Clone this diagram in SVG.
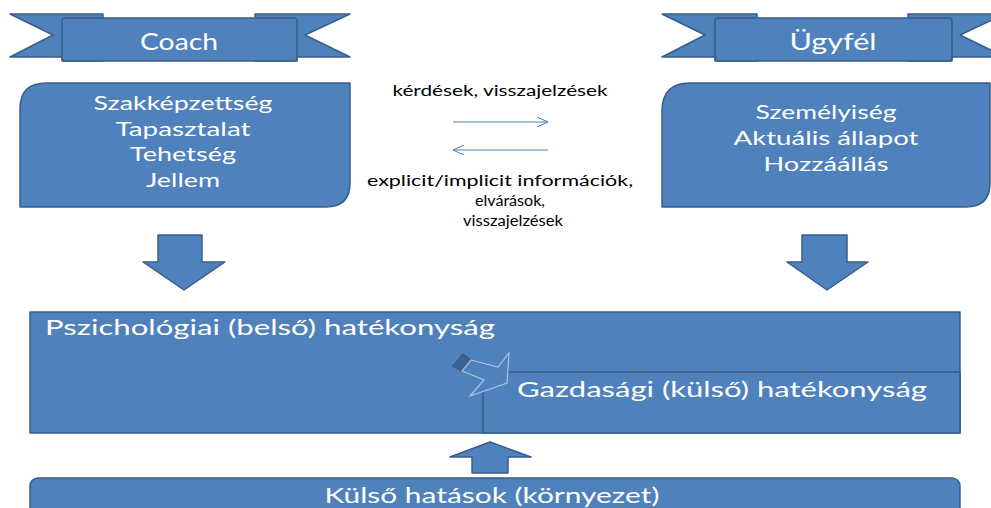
<svg xmlns="http://www.w3.org/2000/svg" width="991" height="508" viewBox="0 0 991 508">
<defs>
<style>
.shape{fill:#4f81bd;stroke:#385d8a;stroke-width:1.5;stroke-linejoin:round}
.fold{fill:#3a6294;stroke:#385d8a;stroke-width:1.5;stroke-linejoin:round}
.wt{fill:#ffffff;font-family:Lato,"Liberation Sans",sans-serif;text-anchor:middle}
.bt{fill:#000000;font-family:Lato,"Liberation Sans",sans-serif;text-anchor:middle;font-size:15.5px}
.conn{stroke:#4a7ebb;stroke-width:1;fill:none}
</style>
<marker id="open" viewBox="0 0 12 10" refX="11" refY="5" markerWidth="12" markerHeight="10" markerUnits="userSpaceOnUse" orient="auto">
<path d="M0,0 L11,5 L0,10" fill="none" stroke="#4a7ebb" stroke-width="1"/>
</marker>
</defs>
<rect width="991" height="508" fill="#ffffff"/>

<g id="coach-banner">
<path class="shape" d="M10,14 L103,14 L103,57 L10,57 L53,35 Z"/>
<path class="shape" d="M255,14 L350,14 L305,35 L350,57 L255,57 Z"/>
<path class="fold" d="M62,57 L103,57 L103,61 L62,61 Z"/>
<path class="fold" d="M255,57 L297,57 L297,61 L255,61 Z"/>
<rect class="shape" x="62" y="18" width="235" height="43" rx="3"/>
<text class="wt" x="179" y="50" font-size="24" textLength="78" lengthAdjust="spacingAndGlyphs">Coach</text>
</g>

<g id="ugyfel-banner">
<path class="shape" d="M662,14 L757,14 L757,57 L662,57 L705,35 Z"/>
<path class="shape" d="M908,14 L1005,14 L960,35 L1005,57 L908,57 Z"/>
<path class="fold" d="M715,57 L757,57 L757,61 L715,61 Z"/>
<path class="fold" d="M908,57 L952,57 L952,61 L908,61 Z"/>
<rect class="shape" x="715" y="18" width="237" height="43" rx="3"/>
<text class="wt" x="833" y="50" font-size="24" textLength="87" lengthAdjust="spacingAndGlyphs">Ügyfél</text>
</g>

<g id="coach-box">
<path class="shape" d="M46,83 L350,83 L350,183 Q350,207 326,207 L20,207 L20,109 Q20,83 46,83 Z"/>
<text class="wt" x="183" y="110" font-size="20" textLength="179" lengthAdjust="spacingAndGlyphs">Szakképzettség</text>
<text class="wt" x="183" y="136" font-size="20" textLength="135" lengthAdjust="spacingAndGlyphs">Tapasztalat</text>
<text class="wt" x="183" y="161" font-size="20" textLength="106" lengthAdjust="spacingAndGlyphs">Tehetség</text>
<text class="wt" x="183" y="187" font-size="20" textLength="74" lengthAdjust="spacingAndGlyphs">Jellem</text>
</g>

<g id="ugyfel-box">
<path class="shape" d="M690,83 L990,83 L990,183 Q990,207 966,207 L662,207 L662,111 Q662,83 690,83 Z"/>
<text class="wt" x="826" y="119" font-size="20" textLength="141" lengthAdjust="spacingAndGlyphs">Személyiség</text>
<text class="wt" x="826" y="145" font-size="20" textLength="185" lengthAdjust="spacingAndGlyphs">Aktuális állapot</text>
<text class="wt" x="826" y="171" font-size="20" textLength="125" lengthAdjust="spacingAndGlyphs">Hozzáállás</text>
</g>

<g id="communication-labels">
<text class="bt" x="500" y="96" textLength="215" lengthAdjust="spacingAndGlyphs">kérdések, visszajelzések</text>
<text class="bt" x="500" y="186" textLength="266" lengthAdjust="spacingAndGlyphs">explicit/implicit információk,</text>
<text class="bt" x="510" y="206" textLength="70" lengthAdjust="spacingAndGlyphs">elvárások,</text>
<text class="bt" x="513" y="226" textLength="100" lengthAdjust="spacingAndGlyphs">visszajelzések</text>
</g>

<g id="connectors">
<line class="conn" x1="453" y1="122" x2="548" y2="122" marker-end="url(#open)"/>
<line class="conn" x1="548" y1="150" x2="453" y2="150" marker-end="url(#open)"/>
<path class="shape" d="M158,235 L202,235 L202,262 L225,262 L184,290 L143,262 L158,262 Z"/>
<path class="shape" d="M802,235 L847,235 L847,262 L868,262 L827,290 L787,262 L802,262 Z"/>
<path class="shape" d="M472,473 L472,457 L450,457 L490,442 L531,457 L508,457 L508,473 Z"/>
</g>

<g id="hatekonysag-box">
<rect class="shape" x="30" y="312" width="930" height="121"/>
<text class="wt" x="45" y="335" font-size="21" style="text-anchor:start" textLength="450" lengthAdjust="spacingAndGlyphs">Pszichológiai (belső) hatékonyság</text>
</g>

<g id="gazdasagi-box">
<rect class="shape" x="483" y="372" width="477" height="61"/>
<text class="wt" x="517" y="397" font-size="21" style="text-anchor:start" textLength="410" lengthAdjust="spacingAndGlyphs">Gazdasági (külső) hatékonyság</text>
</g>

<g id="bent-arrow">
<path class="fold" d="M453,366 L463,354 L471,360 L462,371 Z"/>
<path d="M471,360 L498,367 L509,353 L507,383 L470,396 L484,380 L462,371 Z" fill="#4f81bd" stroke="#a9c2e2" stroke-width="1.2" stroke-linejoin="miter"/>
</g>

<g id="kulso-box">
<rect class="shape" x="30" y="478" width="930" height="45" rx="8"/>
<text class="wt" x="492" y="503" font-size="22" textLength="335" lengthAdjust="spacingAndGlyphs">Külső hatások (környezet)</text>
</g>
</svg>
